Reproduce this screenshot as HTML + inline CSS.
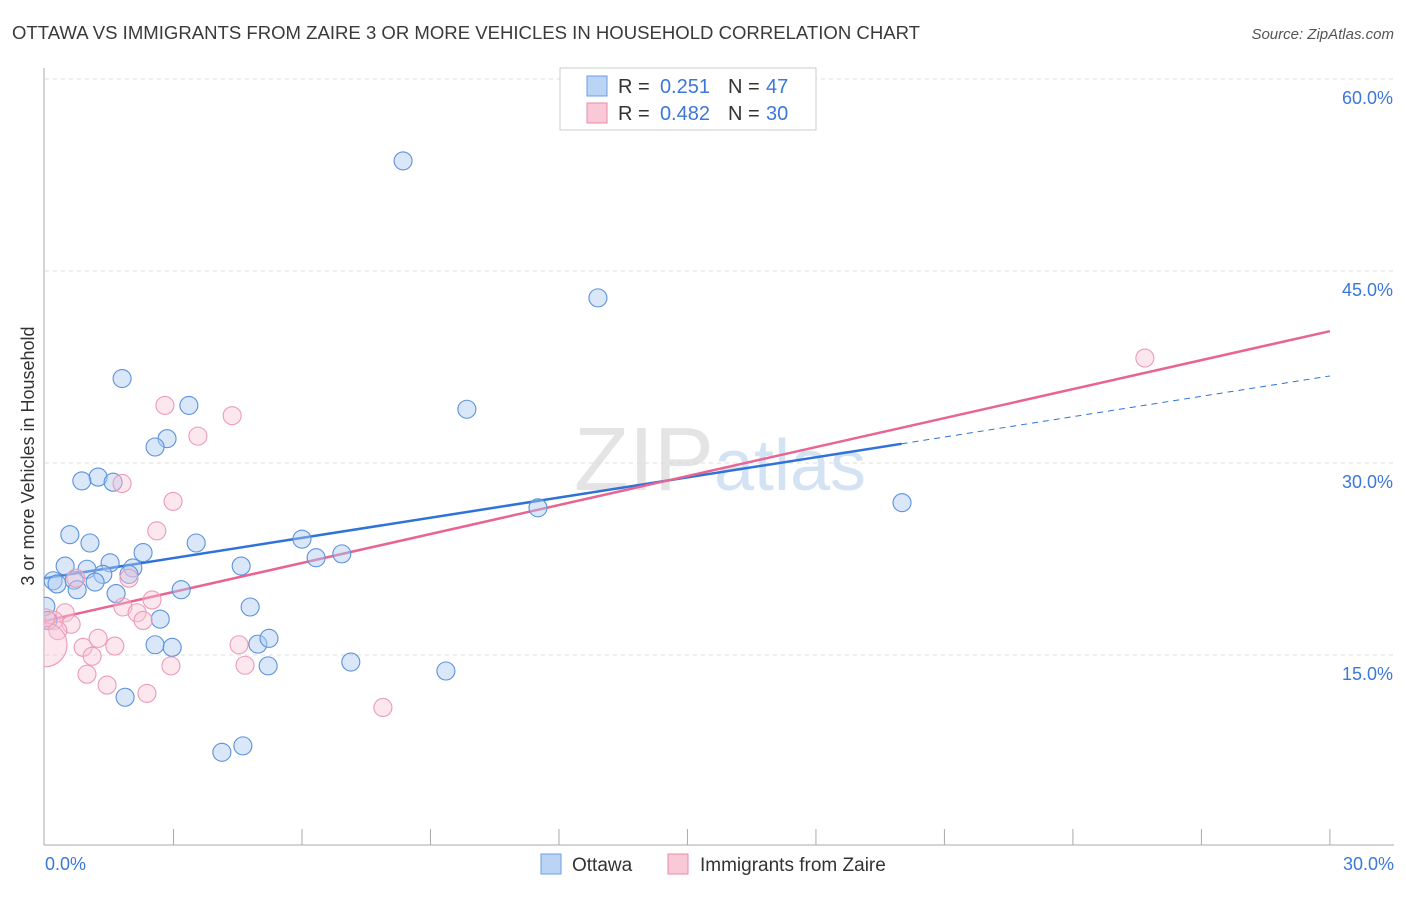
<!DOCTYPE html>
<html><head><meta charset="utf-8"><style>
body{margin:0;background:#fff;font-family:"Liberation Sans",sans-serif;}
svg text{font-family:"Liberation Sans",sans-serif;}
</style></head><body>
<svg id="chart" width="1406" height="892" viewBox="0 0 1406 892">
<defs><clipPath id="plotclip"><rect x="44" y="60" width="1360" height="786"/></clipPath></defs>
<text x="12" y="39" font-size="18" fill="#3a3a3a" textLength="908" lengthAdjust="spacingAndGlyphs">OTTAWA VS IMMIGRANTS FROM ZAIRE 3 OR MORE VEHICLES IN HOUSEHOLD CORRELATION CHART</text>
<text x="1394" y="39" font-size="15" fill="#555" text-anchor="end" font-style="italic">Source: ZipAtlas.com</text>
<text x="720" y="490" font-size="90" fill="#e4e4e4" text-anchor="middle" font-family="Liberation Serif">ZIP<tspan fill="#d4e3f3" font-family="Liberation Sans" font-size="72">atlas</tspan></text>
<g id="grid"></g>
<g id="axes"></g>
<text transform="translate(34,456) rotate(-90)" font-size="18" fill="#333" text-anchor="middle">3 or more Vehicles in Household</text>
<g id="lines"></g>
<g id="points" clip-path="url(#plotclip)"></g>
<g>
<rect x="560" y="68" width="256" height="62" fill="#fff" stroke="#ccc"/>
<rect x="587" y="76" width="20" height="20" fill="#b9d4f5" stroke="#6d9de0"/>
<text x="618" y="93" font-size="20" fill="#333">R =</text>
<text x="710" y="93" font-size="20" fill="#3b78d8" text-anchor="end">0.251</text>
<text x="728" y="93" font-size="20" fill="#333">N =</text>
<text x="766" y="93" font-size="20" fill="#3b78d8">47</text>
<rect x="587" y="103" width="20" height="20" fill="#f9c9d7" stroke="#e98aa8"/>
<text x="618" y="120" font-size="20" fill="#333">R =</text>
<text x="710" y="120" font-size="20" fill="#3b78d8" text-anchor="end">0.482</text>
<text x="728" y="120" font-size="20" fill="#333">N =</text>
<text x="766" y="120" font-size="20" fill="#3b78d8">30</text>
</g>
<g>
<rect x="541" y="854" width="20" height="20" fill="#b9d4f5" stroke="#6d9de0"/>
<text x="572" y="871" font-size="19" fill="#333">Ottawa</text>
<rect x="668" y="854" width="20" height="20" fill="#f9c9d7" stroke="#e98aa8"/>
<text x="700" y="871" font-size="19" fill="#333">Immigrants from Zaire</text>
</g>
</svg>
<script>
const yTicks=[15,30,45,60];
const xTickLabels=["0.0%","30.0%"];
const ottawaX=[8.36,12.91,9.85,1.80,3.36,2.85,2.57,1.24,0.86,1.59,0.58,1.05,2.29,1.52,0.47,0.98,2.05,1.35,1.96,0.19,0.28,0.68,1.17,0.75,1.66,3.18,3.53,4.58,6.0,6.33,6.93,11.51,20.01,4.79,2.69,2.57,2.97,4.97,5.23,5.21,7.14,9.36,1.87,4.13,4.62,0.02,0.07];
const ottawaY=[53.6,42.9,34.2,36.6,34.5,31.9,31.25,28.9,28.6,28.5,24.4,23.75,23.0,22.2,21.95,21.7,21.8,21.3,21.3,20.8,20.55,20.85,20.7,20.1,19.8,20.1,23.75,21.95,24.05,22.6,22.9,26.5,26.9,18.75,17.8,15.8,15.6,15.85,16.3,14.15,14.45,13.75,11.7,7.4,7.9,18.8,17.7];
const zaireX=[25.68,2.8,4.37,3.57,1.8,2.99,2.61,1.96,0.72,2.5,1.82,2.15,2.29,0.47,0.61,0.21,0.3,1.24,1.63,0.89,1.1,4.53,2.94,4.67,0.98,1.45,2.38,7.89,0.0,0.02];
const zaireY=[38.2,34.5,33.7,32.1,28.4,27.0,24.7,21.0,21.0,19.3,18.75,18.3,17.7,18.3,17.4,17.7,16.9,16.3,15.7,15.6,14.9,15.8,14.15,14.2,13.5,12.65,12.0,10.9,15.8,17.9];
const ottawaTrend=[21.0,31.5,36.8]; // at x=0, 20, 30
const zaireTrend=[17.66,40.3]; // at x=0, 30
const NS="http://www.w3.org/2000/svg";
const X=v=>45+v*42.83, Y=v=>847-v*12.8;
function mk(tag,attrs,parent){const e=document.createElementNS(NS,tag);for(const k in attrs)e.setAttribute(k,attrs[k]);document.getElementById(parent).appendChild(e);return e;}
yTicks.forEach(t=>{
 const l=mk('line',{x1:45,x2:1394,y1:Y(t),y2:Y(t),stroke:'#ddd','stroke-dasharray':'4,4'},'grid');
 
 
 const tx=mk('text',{x:1393,y:Y(t)+25,'font-size':18,fill:'#3b78d8','text-anchor':'end'},'grid');
 tx.textContent=t.toFixed(1)+'%';
 
 
});
mk('line',{x1:44,x2:44,y1:68,y2:845,stroke:'#aaa'},'axes');
mk('line',{x1:44,x2:1394,y1:845,y2:845,stroke:'#aaa'},'axes');
for(let i=1;i<=10;i++){mk('line',{x1:X(i*3),x2:X(i*3),y1:829,y2:845,stroke:'#aaa'},'axes');}
[[0,'start',45],[30,'end',1394]].forEach((d,i)=>{const t=mk('text',{x:d[2],y:870,'font-size':18,fill:'#3b78d8','text-anchor':d[1]},'axes');t.textContent=xTickLabels[i];
 
 });
let bl=mk('line',{x1:X(0),y1:Y(ottawaTrend[0]),x2:X(20),y2:Y(ottawaTrend[1]),stroke:'#2f72d8','stroke-width':2.5},'lines');


let bd=mk('line',{x1:X(20),y1:Y(ottawaTrend[1]),x2:X(30),y2:Y(ottawaTrend[2]),stroke:'#2f72d8','stroke-width':1,'stroke-dasharray':'6,5'},'lines');


let pl=mk('line',{x1:X(0),y1:Y(zaireTrend[0]),x2:X(30),y2:Y(zaireTrend[1]),stroke:'#e86591','stroke-width':2.5},'lines');


ottawaX.forEach((x,i)=>{const c=mk('circle',{cx:X(x),cy:Y(ottawaY[i]),r:9,fill:'rgba(170,202,242,0.45)',stroke:'#5b92dc','stroke-width':1.1},'points');
 
 });
zaireX.forEach((x,i)=>{const c=mk('circle',{cx:X(x),cy:Y(zaireY[i]),r:(i==28?22:9),fill:'rgba(248,195,212,0.4)',stroke:'#ee9ab5','stroke-width':1.1},'points');
 
 });
</script>
</body></html>
